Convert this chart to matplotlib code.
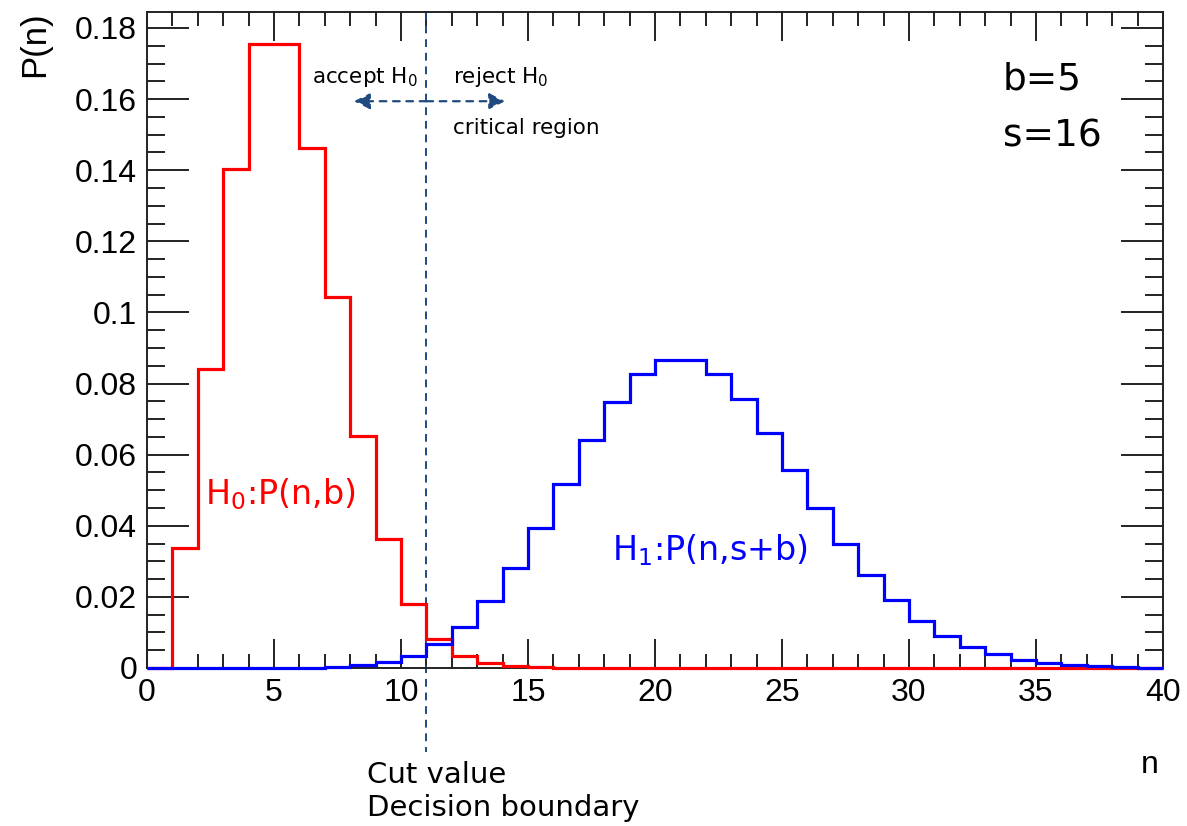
import numpy as np
import matplotlib.pyplot as plt
from matplotlib.ticker import MultipleLocator

# bin edges n = 0..40, one bin per count
edges = np.arange(0, 41)

# background only, b = 5
p_bkg = [0.0, 0.0337, 0.0842, 0.1404, 0.1755, 0.1755, 0.1462, 0.1044, 0.0653, 0.0363,
         0.0181, 0.0082, 0.0034, 0.0013, 0.0005, 0.0002, 0.0001, 0.0, 0.0, 0.0,
         0.0, 0.0, 0.0, 0.0, 0.0, 0.0, 0.0, 0.0, 0.0, 0.0,
         0.0, 0.0, 0.0, 0.0, 0.0, 0.0, 0.0, 0.0, 0.0, 0.0]

# signal + background, s + b = 21
p_sig = [0.0, 0.0, 0.0, 0.0, 0.0, 0.0, 0.0001, 0.0003, 0.0007, 0.0017,
         0.0035, 0.0067, 0.0116, 0.0188, 0.0282, 0.0395, 0.0518, 0.0640, 0.0747, 0.0826,
         0.0867, 0.0867, 0.0828, 0.0756, 0.0661, 0.0556, 0.0449, 0.0349, 0.0262, 0.0190,
         0.0133, 0.0090, 0.0059, 0.0038, 0.0023, 0.0014, 0.0008, 0.0005, 0.0003, 0.0001]

n_cut = 11
b_val = 5
s_val = 16

dash_col = '#1f4a7f'

fig = plt.figure(figsize=(11.87, 8.26), dpi=100)
ax = fig.add_axes([0.1238, 0.1913, 0.8560, 0.7942])

ax.stairs(p_bkg, edges, color='#ff0000', lw=2.3, zorder=3, clip_on=False)
ax.stairs(p_sig, edges, color='#0000ff', lw=2.3, zorder=3.1, clip_on=False)

ax.set_xlim(0, 40)
ax.set_ylim(0, 0.1845)

ax.xaxis.set_major_locator(MultipleLocator(5))
ax.xaxis.set_minor_locator(MultipleLocator(1))
ax.yaxis.set_minor_locator(MultipleLocator(0.005))
ax.set_yticks(np.arange(0, 0.181, 0.02))
ax.set_yticklabels(['0', '0.02', '0.04', '0.06', '0.08', '0.1', '0.12', '0.14', '0.16', '0.18'])

ax.tick_params(which='both', direction='in', top=True, right=True, width=1.4, colors='#222222',
               labelsize=23, labelcolor='black')
ax.tick_params(which='major', length=21, pad=7)
ax.tick_params(which='minor', length=10)
ax.tick_params(axis='y', which='major', length=30)
ax.tick_params(axis='y', which='minor', length=13)
for lab in ax.get_xticklabels() + ax.get_yticklabels():
    lab.set_family('Liberation Sans')
for sp in ax.spines.values():
    sp.set_linewidth(1.4)
    sp.set_color('#222222')

fig.text(0.0295, 0.947, 'P(n)', rotation=90, ha='center', va='center',
         fontsize=25, family='Liberation Sans')
fig.text(0.969, 0.074, 'n', ha='center', va='center', fontsize=23, family='Liberation Sans')

# decision boundary, running below the axis
ax.plot([n_cut, n_cut], [0.1845, -0.0235], color=dash_col, lw=1.4, ls=(0, (4, 3)), clip_on=False)
ax.annotate('', xy=(8.15, 0.1594), xytext=(n_cut, 0.1594),
            arrowprops=dict(arrowstyle='-|>', color=dash_col, lw=1.6, ls=(0, (3, 3)),
                            mutation_scale=24, shrinkA=0, shrinkB=0))
ax.annotate('', xy=(14.1, 0.1594), xytext=(n_cut, 0.1594),
            arrowprops=dict(arrowstyle='-|>', color=dash_col, lw=1.6, ls=(0, (3, 3)),
                            mutation_scale=24, shrinkA=0, shrinkB=0))

ax.text(10.67, 0.1662, r'accept H$_0$', ha='right', va='center', fontsize=15.5)
ax.text(12.05, 0.1662, r'reject H$_0$', ha='left', va='center', fontsize=15.5)
ax.text(12.05, 0.1518, 'critical region', ha='left', va='center', fontsize=15.5)

ax.text(2.28, 0.049, r'H$_0$:P(n,b)', color='#ff0000', ha='left', va='center', fontsize=24)
ax.text(18.3, 0.0332, r'H$_1$:P(n,s+b)', color='#0000ff', ha='left', va='center', fontsize=24)

ax.text(33.7, 0.1656, f'b={b_val}', ha='left', va='center', fontsize=27)
ax.text(33.7, 0.1496, f's={s_val}', ha='left', va='center', fontsize=27)

fig.text(0.309, 0.0617, 'Cut value', ha='left', va='center', fontsize=21)
fig.text(0.309, 0.0218, 'Decision boundary', ha='left', va='center', fontsize=21)

fig.savefig('out.png', dpi=100)
